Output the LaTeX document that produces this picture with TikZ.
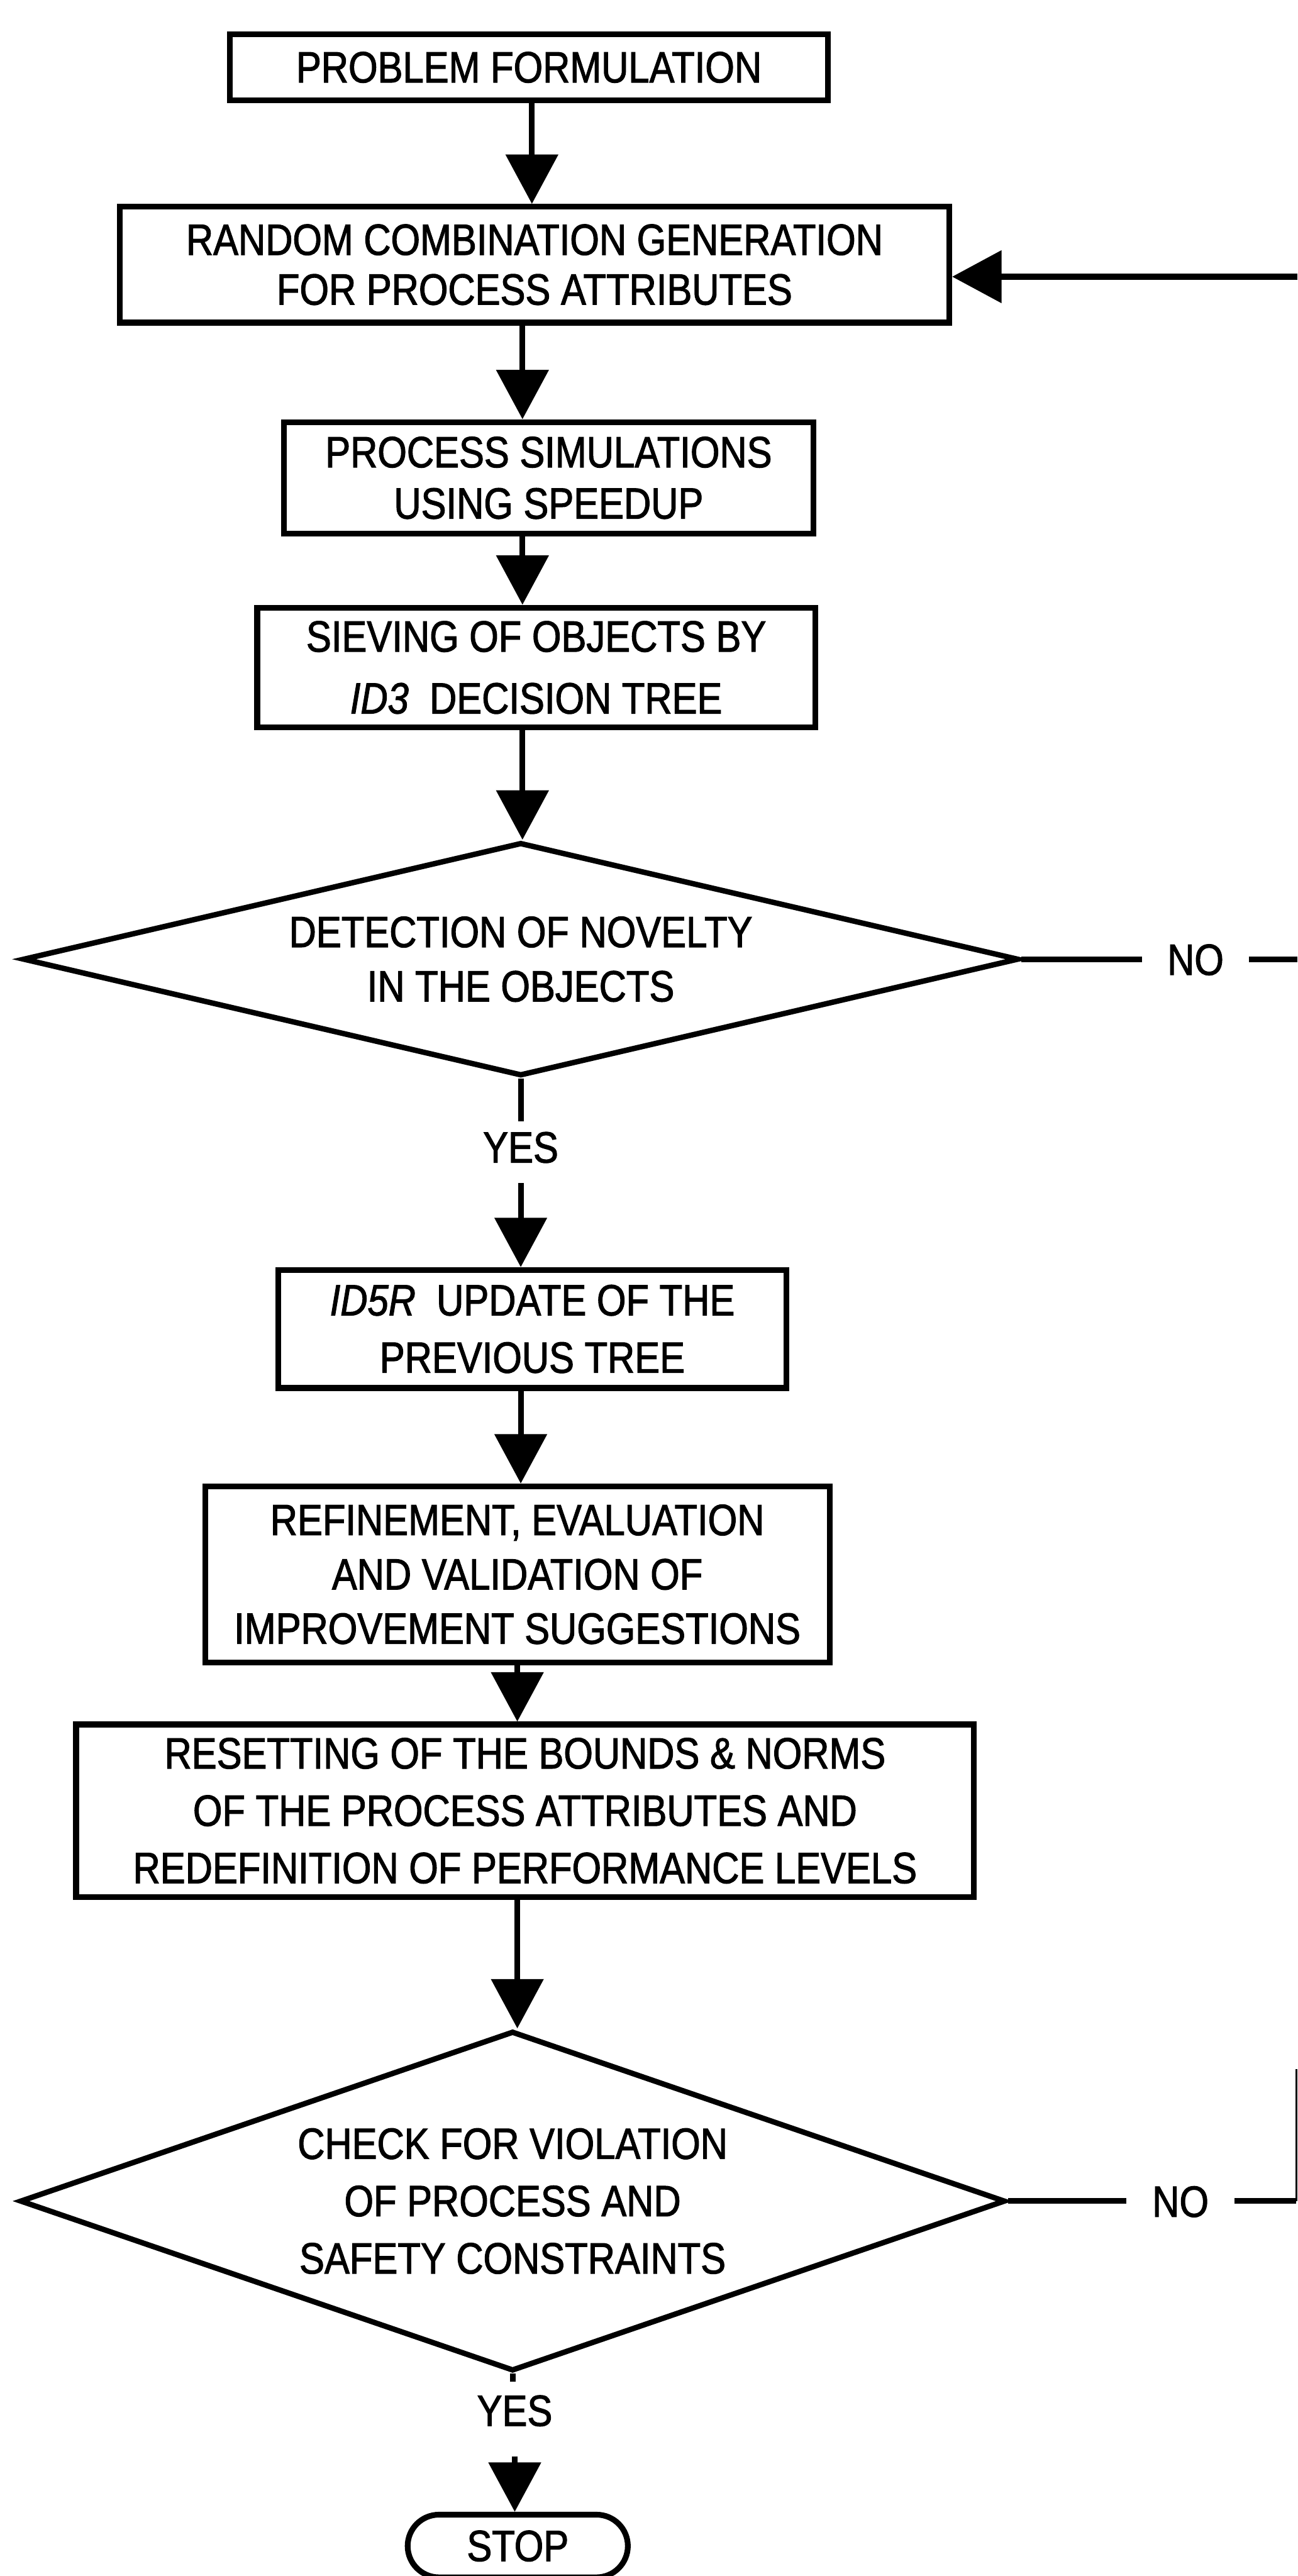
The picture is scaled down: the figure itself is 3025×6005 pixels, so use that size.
\documentclass[tikz,border=0pt]{standalone}
\usepackage{fontspec}
\setmainfont[FakeStretch=0.86,FakeBold=1.6]{Liberation Sans}
\usetikzlibrary{arrows.meta,shapes.geometric,shapes.misc}
\begin{document}
\begin{tikzpicture}[x=0.01cm,y=-0.01cm,
  every node/.style={font=\fontsize{29}{36}\selectfont},
  box/.style={draw, line width=3.8pt, rectangle, inner sep=0pt, align=center},
  dec/.style={draw, line width=3.6pt, diamond, inner sep=0pt, align=center},
  lbl/.style={inner xsep=0pt, text height=0.73cm, text depth=0pt},
  term/.style={draw, line width=3.8pt, rounded rectangle, inner sep=0pt},
  ln/.style={line width=3.8pt},
  thinln/.style={line width=1.2pt},
  arr/.style={line width=3.8pt, -{Triangle[length=1.15cm,width=1.2cm]}},
]
\clip (0,0) rectangle (3025,6005);
\fill[white] (0,0) rectangle (3025,6005);

% boxes
\node[box, minimum width=13.94cm, minimum height=1.53cm] (b1) at (1233,157) {PROBLEM FORMULATION};
\node[box, minimum width=19.33cm, minimum height=2.70cm, font=\fontsize{29}{33}\selectfont] (b2) at (1246,617) {RANDOM COMBINATION GENERATION\\FOR PROCESS ATTRIBUTES};
\node[box, minimum width=12.33cm, minimum height=2.60cm, font=\fontsize{29}{34}\selectfont] (b3) at (1279,1114) {PROCESS SIMULATIONS\\USING SPEEDUP};
\node[box, minimum width=13.00cm, minimum height=2.79cm, font=\fontsize{29}{41}\selectfont] (b4) at (1250,1556) {SIEVING OF OBJECTS BY\\\textit{ID3}\ \ DECISION TREE};
\node[dec, aspect=4.26, minimum width=23.2cm, minimum height=5.44cm, font=\fontsize{29}{36}\selectfont] (d1) at (1214,2236) {DETECTION OF NOVELTY\\IN THE OBJECTS};
\node[box, minimum width=11.83cm, minimum height=2.75cm, font=\fontsize{29}{38}\selectfont] (b5) at (1241,3098) {\textit{ID5R}\ \ UPDATE OF THE\\PREVIOUS TREE};
\node[box, minimum width=14.55cm, minimum height=4.10cm, font=\fontsize{29}{36}\selectfont] (b6) at (1206,3670) {REFINEMENT, EVALUATION\\AND VALIDATION OF\\IMPROVEMENT SUGGESTIONS};
\node[box, minimum width=20.92cm, minimum height=4.02cm, font=\fontsize{29}{38}\selectfont] (b7) at (1224,4221) {RESETTING OF THE BOUNDS \& NORMS\\OF THE PROCESS ATTRIBUTES AND\\REDEFINITION OF PERFORMANCE LEVELS};
\node[dec, aspect=2.9, minimum width=22.96cm, minimum height=7.92cm, font=\fontsize{29}{38}\selectfont] (d2) at (1195,5131) {CHECK FOR VIOLATION\\OF PROCESS AND\\SAFETY CONSTRAINTS};
\node[term, minimum width=5.13cm, minimum height=1.46cm] (stop) at (1207,5935) {STOP};

% labels
\node[lbl, inner ysep=0pt, inner xsep=0.58cm] (no1) at (2787,2236) {NO};
\node[lbl, inner ysep=0pt, inner xsep=0.60cm] (no2) at (2752,5131) {NO};
\node[lbl, anchor=base, inner ysep=0.22cm, text depth=0.25cm] (yes1) at (1214,2710) {YES};
\node[lbl, anchor=base, inner ysep=0.30cm, text depth=0.40cm] (yes2) at (1200,5655) {YES};

% stem columns
\coordinate (s1) at (1240,0);
\coordinate (s2) at (1218,0);
\coordinate (s4) at (1206,0);

% main flow
\draw[arr] (b1.south -| s1) -- (b2.north -| s1);
\draw[arr] (b2.south -| s2) -- (b3.north -| s2);
\draw[arr] (b3.south -| s2) -- (b4.north -| s2);
\draw[arr] (b4.south -| s2) -- (d1.north -| s2);
\draw[ln] (d1.south) -- (yes1.north);
\draw[arr] (yes1.south) -- (b5.north -| yes1);
\draw[arr] (b5.south -| yes1) -- (b6.north -| yes1);
\draw[arr] (b6.south -| s4) -- (b7.north -| s4);
\draw[arr] (b7.south -| s4) -- (d2.north -| s4);
\draw[ln] (d2.south) -- (yes2.north -| d2.south);
\draw[arr] (yes2.south) -- (stop.north -| yes2);

% NO branches and feedback
\coordinate (e1) at (3025,2236);
\coordinate (e2) at (3022,5131);
\coordinate (e2top) at (3022,4824);
\coordinate (fb) at (3025,645);
\draw[ln] (d1.east) -- (no1.west);
\draw[ln] (no1.east) -- (e1);
\draw[ln] (d2.east) -- (no2.west);
\draw[ln] (no2.east) -- (e2);
\draw[thinln] (e2) -- (e2top);
\draw[arr] (fb) -- (fb -| b2.east);
\end{tikzpicture}
\end{document}
